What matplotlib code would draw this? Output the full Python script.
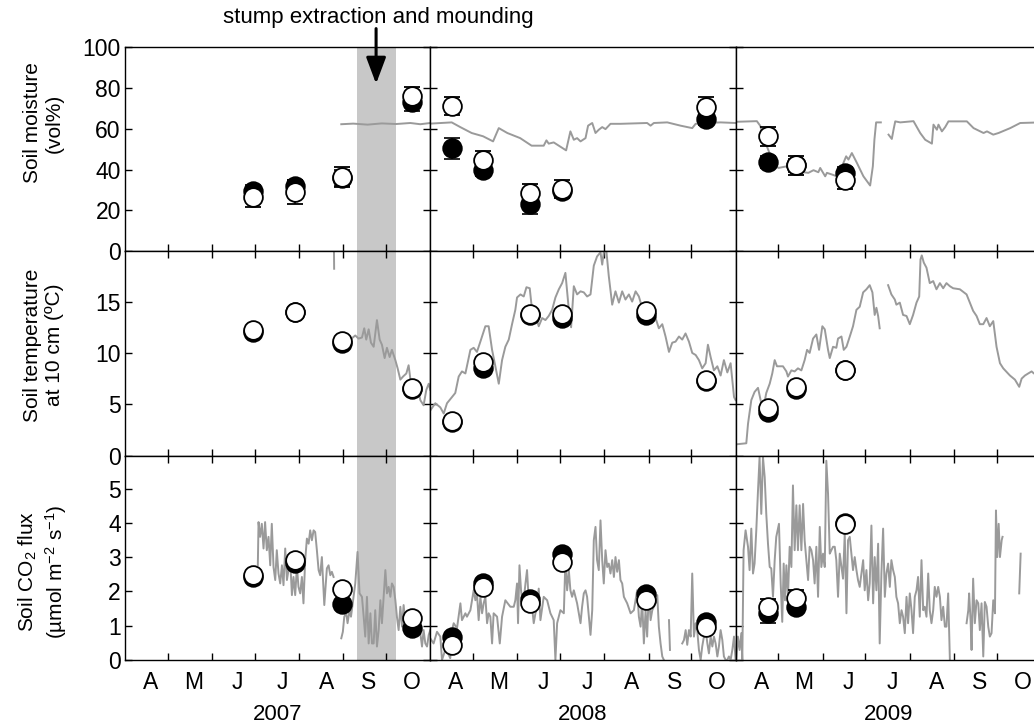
import numpy as np
import matplotlib.pyplot as plt

plt.rcParams['font.family'] = ['Liberation Sans', 'DejaVu Sans']
plt.rcParams['mathtext.fontset'] = 'custom'
plt.rcParams['mathtext.rm'] = 'Liberation Sans'
plt.rcParams['mathtext.it'] = 'Liberation Sans:italic'

nan = np.nan

# x = days after 1 April of each year (Apr..Oct = 214 days)
years = ['2007', '2008', '2009']
month_letters = ['A', 'M', 'J', 'J', 'A', 'S', 'O']
month_starts = [30, 61, 91, 122, 153, 183]
month_mids = [18, 48, 79, 110, 141, 171, 201]
season_end = 214
treatment_span = (162.8, 190.1)   # stump extraction and mounding
arrow_day = 176

# ---- sampling campaigns ----
days_07 = [90, 119, 152, 201]
days_08 = [15, 37, 70, 92, 151, 193]
days_08_moist = [15, 37, 70, 92, 193]
days_09 = [23, 42, 77]

# soil moisture (vol%)
moist_f_07 = [29.5, 32, 36, 73.3]
moist_o_07 = [26.5, 29, 36.3, 76]
moist_fe_07 = [3, 3, 4, 4.5]
moist_oe_07 = [4.8, 6, 5, 4.3]
moist_f_08 = [50.5, 40, 23, 29.5, 65]
moist_o_08 = [71, 44.5, 28.3, 30.7, 70.7]
moist_fe_08 = [5.2, 3, 4.5, 3, 3]
moist_oe_08 = [4.5, 4.7, 4.4, 4.4, 4.6]
moist_f_09 = [43.7, 42, 38.4]
moist_o_09 = [56.3, 42, 35.1]
moist_fe_09 = [3, 3, 3]
moist_oe_09 = [4.6, 4.6, 4.5]

# soil temperature at 10 cm
temp_f_07 = [12.0, 14.0, 11.0, 6.5]
temp_o_07 = [12.25, 14.0, 11.2, 6.6]
temp_f_08 = [3.3, 8.5, 13.7, 13.45, 13.7, 7.3]
temp_o_08 = [3.35, 9.15, 13.75, 13.8, 14.05, 7.35]
temp_f_09 = [4.25, 6.45, 8.3]
temp_o_09 = [4.6, 6.7, 8.35]

# soil CO2 flux
flux_f_07 = [2.42, 2.83, 1.63, 0.94]
flux_o_07 = [2.47, 2.91, 2.08, 1.23]
flux_f_08 = [0.68, 2.23, 1.79, 3.1, 1.92, 1.11]
flux_o_08 = [0.44, 2.13, 1.65, 2.86, 1.74, 0.97]
flux_f_09 = [1.36, 1.55, 3.98]
flux_o_09 = [1.53, 1.82, 3.95]
flux_fe_09 = [0.29, 0, 0]
flux_oe_09 = [0.24, 0.23, 0]

# ---- continuous records (grey lines) ----
ml_d_07 = [151.6, 160, 170, 180, 190, 200, 207, 214]
ml_v_07 = [62.2, 62.5, 62.0, 62.6, 62.3, 62.8, 62.2, 62.8]
ml_d_08 = [0, 15, 21, 29, 37, 44, 48, 54, 63, 71, 79.5, 81.4, 83, 86.5, 95.2, 98.2,
           100.6, 102.9, 105.3, 108.8, 110.6, 113.5, 115.8, 118.1, 120.5, 122.8,
           126.3, 133.3, 152, 154.4, 156.7, 166.1, 175.4, 183.6, 186, 194.2, 203.5, 214]
ml_v_08 = [62.5, 63.1, 60.8, 57.9, 56.3, 53.8, 60.3, 57.9, 55.4, 51.7, 51.7, 54.3,
           52.7, 53.3, 49.4, 58.7, 54.6, 55.4, 53.8, 55.4, 61.5, 62.8, 57.9, 59.5,
           60.8, 59.8, 62.4, 62.4, 62.8, 61.5, 62.8, 63.1, 61.5, 60.3, 62.4, 62.8, 63.1, 62.8]
ml_d_09 = [0.8, 14.9, 17.2, 19.5, 21.9, 24.2, 26.5, 30, 35.9, 42.9, 47.5, 51, 54.6,
           58, 59.3, 62.8, 64, 67.5, 71, 73.8, 75.6, 77.5, 79.1, 81.5, 85, 89.6, 94.3,
           96.2, 97.3, 98.5, 101.8, nan, 107.2, 109.5, 110.7, 111.9, 115.4, 124.7,
           129.4, 132.9, 137.6, 138.7, 141.1, 142.2, 144.6, 146.9, 149.2, 162.1,
           166.8, 173.8, 176.2, 180.6, 184.3, 192.5, 199.5, 214]
ml_v_09 = [63.4, 63.7, 61.5, 56.3, 51.4, 47.3, 43.3, 40.8, 41.6, 40, 38.7, 38.4, 39.7,
           38.7, 40.8, 36.7, 38.4, 37.6, 36.7, 40, 43.3, 46.5, 44.9, 48.1, 43.3, 36.7,
           32.2, 41.6, 54.6, 63.1, 63.1, nan, 57.1, 55, 59.5, 63.6, 63.1, 63.7, 57.9,
           54.6, 52.7, 62, 59.5, 62, 58.7, 60.8, 63.6, 63.6, 60.3, 57.9, 58.7, 57.1,
           57.9, 60.3, 62.8, 63.1]

tl_d_07 = [146.4, 146.6, nan, 152, 157.9, 161.4, 163.7, 166.1, 167.7, 169.1, 170.8,
           172.4, 174.3, 176.6, 178.5, 180.1, 182, 183.6, 185.5, 187.1, 189.5, 191.1,
           193, 194.9, 197.2, 198.8, 200, 202.3, 204.7, 207, 209.3, 211.2, 212.9, 214]
tl_v_07 = [21, 18.2, nan, 11.4, 11.3, 11.7, 11.4, 11.5, 12.4, 11.3, 12.3, 11.0, 10.6,
           13.2, 11.3, 10.8, 9.5, 10.5, 9.6, 10.3, 9.3, 8.5, 7.4, 7.7, 8.0, 8.8, 7.5,
           6.1, 7.0, 5.4, 4.9, 6.4, 7.0, 6.4]
tl_d_08 = [0, 3.5, 7, 9.4, 11.7, 15.2, 17.5, 19.9, 22.2, 24.6, 28.1, 30.4, 32.7, 35.1,
           38.6, 40.9, 43.3, 45.6, 48, 50.3, 52.6, 55, 57.3, 59.6, 60.8, 63.2, 65.5,
           67.4, 69.7, 71.3, 73.7, 76, 78.4, 80.7, 83, 85.4, 87.7, 90.1, 92.4, 94.7,
           97.1, 98.7, 100.6, 102.9, 105.3, 107.6, 109.9, 112.3, 114.6, 116.9, 119.3,
           120.5, 121.6, 123.3, 125.1, 127.5, 129.8, 132.2, 134.5, 136.8, 139.2, 141.5,
           143.9, 146.2, 148.5, 150.9, 154.4, 157.9, 160.2, 162.6, 164.9, 167.3, 169.6,
           171.9, 174.3, 176.6, 178.9, 181.3, 183.6, 186, 188.3, 190.6, 193, 194.6,
           196.5, 198.8, 201.2, 203.5, 205.8, 208.2, 210.5, 212.9, 214]
tl_v_08 = [4.4, 5.1, 4.7, 4.1, 5.1, 5.7, 6.1, 7.7, 8.2, 8.0, 10.3, 10.5, 10.1, 11.1,
           12.6, 12.6, 10.3, 8.7, 7.0, 9.3, 10.6, 11.3, 12.8, 14.2, 15.4, 15.7, 15.5,
           16.4, 16.3, 14.2, 13.7, 12.6, 13.4, 13.2, 13.6, 14.2, 15.4, 16.2, 16.8, 17.8,
           14.2, 12.5, 16.5, 15.7, 16.0, 15.9, 15.5, 15.7, 18.5, 19.4, 19.8, 18.6, 19.8,
           20.1, 17.5, 14.7, 16.0, 14.9, 16.0, 15.2, 15.7, 15.0, 16.0, 15.5, 14.4, 14.1,
           13.9, 13.4, 12.4, 12.8, 11.6, 10.1, 11.0, 11.1, 11.6, 11.3, 11.9, 11.1, 10.0,
           9.8, 9.3, 8.5, 9.0, 10.8, 9.6, 8.3, 8.7, 7.8, 9.3, 8.1, 9.0, 5.7, 5.4]
tl_d_09 = [0.5, 7.5, 8.7, 11, 13.3, 15.7, 18, 19.6, 21.5, 23.9, 25.7, 27.4, 29, 33.2,
           35.6, 36.7, 39.1, 41.4, 43.7, 46.1, 48.4, 50.1, 51.9, 54.3, 56.6, 58.5, 60.8,
           62.5, 64.8, 66, 68.3, 70.6, 71.8, 74.2, 75.8, 77.7, 80.5, 82.3, 84.7, 87,
           89.4, 91.7, 94, 95.9, 97.5, 98.7, 99.9, 101, nan, 106.9, 109.2, 111.6, 112.7,
           115.1, 117.4, 119.8, 122.1, 124.4, 126.8, 128.7, 129.6, 130.5, 131.9, 133.8,
           136.1, 138.5, 140.8, 143.2, 145.5, 147.8, 150.2, 152.5, 157.2, 161.9, 164.2,
           166.5, 168.9, 171.2, 173.6, 175.9, 178.2, 180.6, 182.9, 185.3, 187.6, 192.3,
           195.8, 198.8, 200.5, 202.8, 205.1, 207.5, 209.1, 214]
tl_v_09 = [1.1, 1.2, 3.1, 5.4, 6.2, 6.6, 5.1, 4.7, 6.1, 7.0, 8.0, 9.3, 8.7, 8.7, 8.2,
           7.7, 8.3, 8.2, 8.5, 8.3, 9.3, 10.3, 10.0, 11.4, 11.8, 10.3, 12.6, 12.3, 10.3,
           9.5, 10.6, 10.5, 11.4, 11.6, 10.3, 10.6, 11.8, 12.6, 14.2, 14.5, 15.9, 16.2,
           16.6, 15.9, 13.7, 14.4, 13.6, 12.4, nan, 16.6, 15.7, 15.2, 14.7, 14.9, 13.7,
           13.6, 12.8, 13.7, 14.9, 15.5, 19.1, 19.5, 18.8, 18.3, 16.8, 17.0, 16.2, 16.8,
           16.3, 16.8, 16.5, 16.3, 16.2, 15.7, 14.9, 14.1, 13.6, 12.8, 12.8, 13.4, 12.6,
           13.1, 10.6, 9.0, 8.5, 7.8, 7.4, 6.7, 7.5, 7.8, 8.0, 8.2, 8.0, 8.2]

fl_d_07 = [93.1, 93.6, 94.7, 95.9, 97.1, 98.2, 99.4, 100.6, 101.8, 102.9, 104.1, 105.3,
           106.4, 107.6, 108.8, 110, 111.1, 112.3, 113.5, 114.6, 115.8, 117, 118.1,
           119.3, 120.5, 121.6, 122.8, 124, 125.1, 126.3, 127.5, 128.7, 129.8, 131,
           132.2, 133.3, 134.5, 135.7, 136.8, 138, 139.7, 141.5, 142.7, 143.9, 145,
           146.2, nan, 151.6, 152.7, 153.7, 155.1, 156, 157.4, 158.4, 160.2, 161.4, 163,
           164.4, 166.1, 167.3, 168.4, 169.6, 170.8, 172, 173.1, 174.3, 175.4, 176.6,
           177.8, 179, 180.1, 181.3, 182.5, 183.6, 184.8, 186, 187.1, 188.3, 189.5,
           190.6, 191.8, 193, 194.2, 195.3, 196.5, 197.7, 200, 202.3, 204.7, 207, 208.2,
           209.3, 210.5, 211.7, 212.9, 214]
fl_v_07 = [2.76, 4.02, 3.59, 3.97, 3.25, 4.02, 3.2, 3.59, 2.76, 3.97, 2.71, 2.33, 3.2,
           2.52, 2.23, 2.76, 2.18, 3.25, 2.33, 2.62, 2.91, 1.89, 2.42, 1.89, 2.71, 2.13,
           1.94, 2.42, 1.65, 2.91, 3.54, 3.39, 3.78, 3.49, 3.78, 3.73, 3.2, 2.62, 2.47,
           3.0, 1.6, 2.67, 2.76, 2.47, 2.57, 2.42, nan, 0.63, 0.82, 1.26, 1.36, 1.07,
           1.45, 1.26, 1.84, 2.23, 3.15, 1.94, 1.84, 1.26, 0.68, 1.84, 0.48, 1.36, 0.48,
           0.48, 1.45, 0.39, 0.87, 1.74, 1.07, 1.84, 2.62, 1.94, 2.13, 1.84, 2.23, 2.13,
           1.74, 1.26, 0.87, 1.55, 0.97, 1.6, 1.07, 1.11, 0.68, 1.26, 0.87, 0.78, 0.39,
           0.87, 0.48, 0.39, 0.73, 0.87]
fl_d_08 = [0, 2.3, 4.7, 7, 8.2, 10.5, 12.9, 14, 15.2, 16.4, 18.7, 21.1, 22.2, 24.6,
           25.7, 28.1, 30.4, 31.6, 32.7, 33.9, 35.1, 36.3, 37.4, 38.6, 39.8, 40.9, 42.1,
           43.3, 44.4, 46.8, 48.7, 50.3, 52.6, 54.3, 56.1, 58.5, 59.6, 60.8, 61.5, 62.5,
           63.6, 65, 66.7, 67.8, 69, 70.6, 72.5, 73.7, 74.9, 76, 77.2, 79.5, 81.9, 84.2,
           86.5, 87.7, 88.9, 91.2, 93.6, 94.7, 95.9, 97.1, 98.2, 99.4, 100.6, 102.9,
           105.3, 106.4, 107.6, 108.8, 109.9, 112.3, 113.5, 114.6, 115.8, 116.9, 118.1,
           119.3, 120.5, 121.6, 122.8, 124, 125.1, 126.3, 127.5, 128.7, 129.8, 131,
           132.2, 133.3, 134.5, 135.7, 138, 140.4, 142.7, 145, 146.2, 147.4, 148.5,
           149.7, 150.9, 152, 153.2, 154.4, 155.6, 156.7, 157.9, 159.1, 160.2, 161.4,
           162.6, 163.7, nan, 167.3, 168, nan, 176.6, 177.8, 179, 180.1, 181.3, 182.5,
           183.6, 184.8, 186, 187.1, 188.3, 189.5, 190.6, 191.8, 193, 194.2, 195.3,
           196.5, 197.7, 198.8, 200, 201.2, 202.3, 203.5, 204.7, 205.8, 207, 208.2,
           209.3, 210.5, 211.7, 212.9, 214]
fl_v_08 = [0.63, 0.48, 0.82, 0.68, 0, 0.29, 0.15, 0.05, 0.87, 1.07, 0.92, 1.65, 1.16,
           1.36, 1.26, 1.45, 2.03, 1.74, 1.94, 1.16, 1.84, 1.36, 1.65, 1.84, 1.07, 1.36,
           1.26, 0.48, 1.36, 1.26, 0.48, 1.26, 1.74, 1.65, 1.55, 1.55, 1.74, 2.23, 1.07,
           2.76, 2.03, 1.55, 2.23, 2.62, 1.74, 1.84, 1.07, 1.36, 1.55, 2.08, 1.16, 1.84,
           1.74, 1.36, 1.16, 0, 1.07, 1.45, 1.36, 2.91, 2.03, 2.62, 2.03, 1.84, 2.03,
           1.65, 1.07, 1.55, 1.94, 2.03, 1.84, 0.73, 1.45, 3.49, 3.88, 2.91, 2.62, 4.07,
           2.91, 2.23, 3.2, 2.71, 2.81, 2.52, 2.91, 2.42, 3.0, 2.57, 2.91, 2.33, 2.23,
           1.84, 1.65, 1.36, 1.45, 2.03, 1.26, 0.97, 1.74, 0.48, 1.45, 0.68, 2.03, 1.16,
           1.45, 1.55, 1.65, 1.89, 0.97, 0.48, 0.1, 0, nan, 1.16, 0.29, nan, 0.48, 0.58,
           0.87, 0.44, 0.87, 0.68, 2.52, 0.68, 1.07, 0.87, 0.29, 0, 0.39, 0.68, 0.87,
           0.48, 0.19, 0.68, 0.39, 0.68, 0.48, 0.1, 0.39, 0.87, 0.58, 0.1, 0, 0, 0.1, 0,
           0.29, 0.68, 0]
fl_d_09 = [0.5, 1.6, 2.8, 4, 4.7, 5.6, 7, 8.7, 9.8, 11, 12.2, 13.3, 14.5, 15.7, 16.8,
           18, 19.2, 20.4, 21.5, 22.7, 23.9, 25, 26.2, 27.4, 28.5, 30.4, 31.6, 32.7,
           33.7, 34.6, 35.6, 36.7, 37.9, 39.1, 40.2, 41.4, 42.6, 43.7, 44.9, 46.1, 47.3,
           48.4, 49.6, 50.8, 51.9, 53.1, 54.3, 55.4, 56.6, 57.8, 59, 60.1, 61.3, 62.5,
           63.6, 64.8, 66, 67.1, 68.3, 69.5, 70.6, 71.8, 73, 74.2, 75.3, 76.5, 77.7,
           78.8, 80, 81.2, 82.3, 83.5, 84.7, 85.8, 87, 88.2, 89.4, 90.5, 91.7, 92.9, 94,
           95.2, 96.4, 97.5, 98.7, 99.9, 101, 102.2, 103.4, 104.6, 105.7, 106.9, 108.1,
           109.2, 110.4, 111.6, 112.7, 113.9, 115.1, 116.3, 117.4, 118.6, 119.8, 120.9,
           122.1, 123.3, 124.4, 125.6, 126.8, 127.9, 129.1, 130.3, 131.5, 132.6, 133.8,
           135, 136.1, 137.3, 138.5, 139.6, 140.8, 142, 143.2, 144.3, 145.5, 146.7,
           147.8, 149, 150.2, nan, 161.9, 163.1, 163.7, 164.7, 165.4, 166.5, 167.7,
           168.9, 170.1, 171.2, 172.4, 173.6, 174.7, 175.9, 177.1, 178.2, 179.4, 180.6,
           181.8, 182.5, 183.4, 184.4, 185.3, 186.5, 187.1, nan, 198.8, 199.8]
fl_v_09 = [0, 0.68, 0.29, 0.78, 0, 3.2, 3.78, 3.3, 2.62, 3.83, 2.52, 2.81, 3.78, 4.94,
           5.91, 4.26, 5.91, 5.33, 4.26, 3.39, 2.71, 2.67, 1.84, 2.91, 3.59, 3.97, 2.23,
           1.11, 2.81, 1.74, 2.76, 1.84, 3.3, 2.71, 5.09, 3.2, 4.51, 3.2, 4.51, 3.2, 4.55,
           3.49, 2.91, 2.33, 3.3, 3.2, 2.91, 2.23, 3.3, 1.84, 3.88, 2.71, 3.1, 2.71, 5.81,
           4.84, 3.1, 3.2, 3.3, 3.3, 2.91, 1.84, 3.1, 2.71, 2.37, 3.68, 1.36, 3.49, 3.59,
           3.1, 2.62, 3.0, 2.62, 2.33, 2.13, 2.52, 2.91, 2.03, 2.62, 1.74, 2.23, 3.92,
           1.65, 3.0, 2.03, 3.39, 0.48, 2.52, 3.83, 1.84, 2.52, 2.81, 2.13, 2.91, 2.62,
           2.42, 1.84, 1.65, 1.07, 1.45, 1.26, 0.78, 1.84, 1.07, 1.94, 1.45, 0.78, 1.84,
           2.03, 2.42, 1.26, 2.91, 1.45, 1.55, 1.26, 2.52, 1.45, 1.07, 1.45, 2.13, 1.84,
           2.13, 1.84, 1.16, 1.55, 0.97, 0.97, 1.94, 0, nan, 1.07, 1.45, 1.94, 1.16, 0.29,
           2.37, 1.07, 1.74, 1.65, 0.87, 1.65, 0.1, 1.69, 1.55, 0.97, 0.68, 0.78, 1.74,
           1.36, 4.36, 3.0, 3.97, 3.0, 3.49, 3.59, nan, 1.94, 3.1]

W, H = 1034, 726
fig = plt.figure(figsize=(W / 100, H / 100), dpi=100)

left_px, top_px, col_w, row_h = 125, 47, 305.3, 204.3
FS = 16
GREY = '#9a9a9a'


def draw_points(ax, x, filled, open_, err_f=None, err_o=None):
    ax.errorbar(x, filled, yerr=err_f, fmt='o', ms=13.5, mfc='black', mec='black',
                mew=1.2, ecolor='black', elinewidth=1.2, capsize=5.5, capthick=1.2,
                zorder=3)
    ax.errorbar(x, open_, yerr=err_o, fmt='o', ms=13.5, mfc='white', mec='black',
                mew=1.3, ecolor='black', elinewidth=1.2, capsize=5.5, capthick=1.2,
                zorder=4)


rows = [
    dict(ylim=(0, 100), ticks=[0, 20, 40, 60, 80, 100],
         lines=[(ml_d_07, ml_v_07), (ml_d_08, ml_v_08), (ml_d_09, ml_v_09)],
         pts=[(days_07, moist_f_07, moist_o_07, moist_fe_07, moist_oe_07),
              (days_08_moist, moist_f_08, moist_o_08, moist_fe_08, moist_oe_08),
              (days_09, moist_f_09, moist_o_09, moist_fe_09, moist_oe_09)]),
    dict(ylim=(0, 19.9), ticks=[0, 5, 10, 15],
         lines=[(tl_d_07, tl_v_07), (tl_d_08, tl_v_08), (tl_d_09, tl_v_09)],
         pts=[(days_07, temp_f_07, temp_o_07, None, None),
              (days_08, temp_f_08, temp_o_08, None, None),
              (days_09, temp_f_09, temp_o_09, None, None)]),
    dict(ylim=(0, 5.96), ticks=[0, 1, 2, 3, 4, 5],
         lines=[(fl_d_07, fl_v_07), (fl_d_08, fl_v_08), (fl_d_09, fl_v_09)],
         pts=[(days_07, flux_f_07, flux_o_07, None, None),
              (days_08, flux_f_08, flux_o_08, None, None),
              (days_09, flux_f_09, flux_o_09, flux_fe_09, flux_oe_09)]),
]

axes = [[None] * 3 for _ in range(3)]
for r, spec in enumerate(rows):
    for c in range(3):
        x0 = (left_px + c * col_w) / W
        y0 = 1 - (top_px + (r + 1) * row_h) / H
        ax = fig.add_axes([x0, y0, col_w / W, row_h / H])
        axes[r][c] = ax
        ax.set_xlim(0, season_end)
        ax.set_ylim(*spec['ylim'])
        ax.set_yticks(spec['ticks'])
        ax.set_xticks(month_starts)
        if c == 0:
            ax.axvspan(*treatment_span, color='#c8c8c8', lw=0, zorder=0)
        d, v = spec['lines'][c]
        ax.plot(d, v, color=GREY, lw=1.4, zorder=2)
        px, f, o, fe, oe = spec['pts'][c]
        draw_points(ax, px, f, o, fe, oe)
        ax.tick_params(which='major', direction='in', length=5, width=1,
                       top=(r > 0), right=True, labelbottom=False,
                       labelleft=(c == 0), labelsize=16.5, pad=3)
        if r == 2:
            ax.set_xticks(month_mids, minor=True)
            ax.set_xticklabels(month_letters, minor=True)
            ax.tick_params(which='minor', length=0, labelbottom=True,
                           labelsize=16.5, pad=8)
        for s in ax.spines.values():
            s.set_linewidth(1.0)

# treatment arrow and note
axes[0][0].annotate('', xy=(arrow_day, 82), xytext=(arrow_day, 109),
                    arrowprops=dict(arrowstyle='-|>,head_length=0.8,head_width=0.3',
                                    color='black', lw=2.2, mutation_scale=20,
                                    shrinkA=0, shrinkB=0),
                    annotation_clip=False, zorder=6)
fig.text(378 / W, 1 - 18 / H, 'stump extraction and mounding', ha='center',
         va='center', fontsize=FS)

# y labels
ylabels = ['Soil moisture\n(vol%)', 'Soil temperature\nat 10 cm (ºC)',
           'Soil CO$_2$ flux\n(µmol m$^{-2}$ s$^{-1}$)']
ylabel_y = [123, 345, 572]
for lab, yy in zip(ylabels, ylabel_y):
    fig.text(43 / W, 1 - yy / H, lab, rotation=90, ha='center', va='center',
             fontsize=15, linespacing=1.2, multialignment='center')

# year labels
for c, yr in enumerate(years):
    fig.text((left_px + (c + 0.5) * col_w) / W, 1 - 715 / H, yr, ha='center',
             va='center', fontsize=FS)

fig.savefig('out.png', dpi=100)
